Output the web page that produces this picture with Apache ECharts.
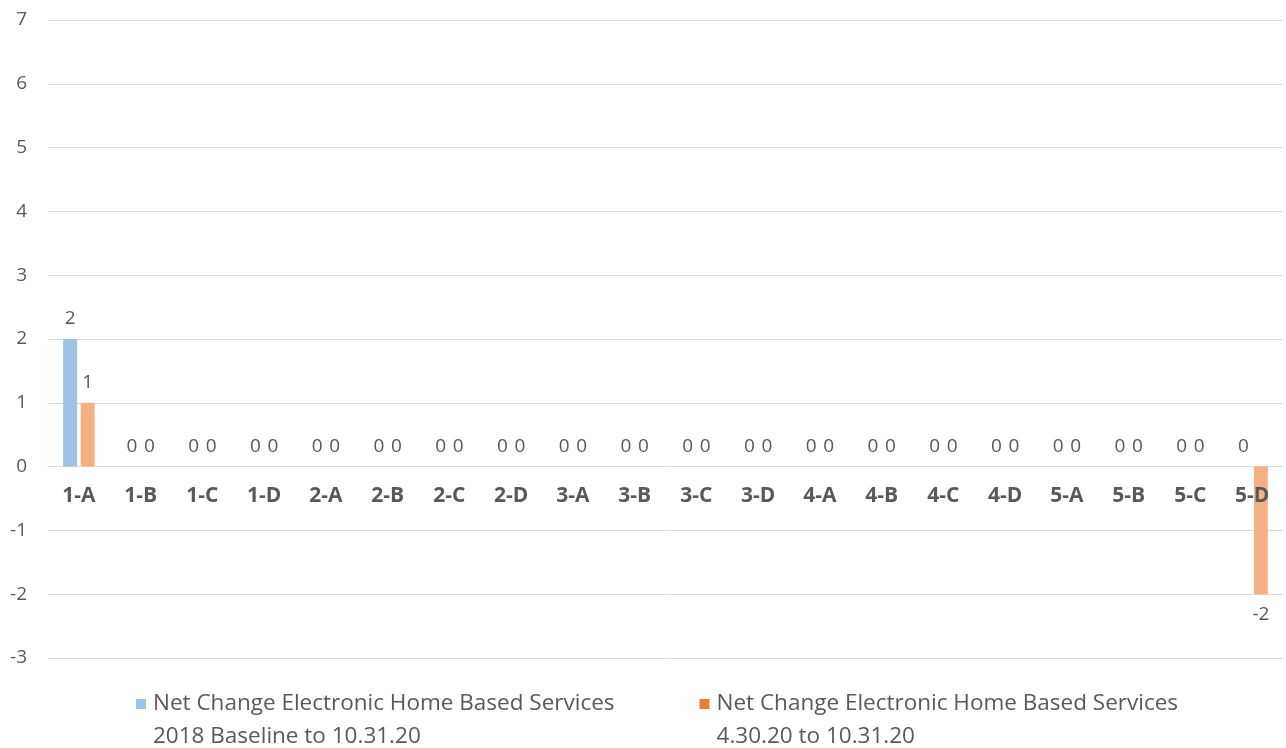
<!DOCTYPE html>
<html>
<head>
  <meta charset="utf-8">
  <title>Net Change Electronic Home Based Services</title>
  <script src="https://cdn.jsdelivr.net/npm/echarts@6/dist/echarts.min.js"></script>
  <style>
    html, body { margin: 0; padding: 0; background: #fff; }
    #main { width: 1286px; height: 748px; }
  </style>
</head>
<body>
  <div id="main"></div>
  <script>
    // data
    var categories = ['1-A', '1-B', '1-C', '1-D', '2-A', '2-B', '2-C', '2-D', '3-A', '3-B',
                      '3-C', '3-D', '4-A', '4-B', '4-C', '4-D', '5-A', '5-B', '5-C', '5-D'];
    var baseline2018 = [2, 0, 0, 0, 0, 0, 0, 0, 0, 0, 0, 0, 0, 0, 0, 0, 0, 0, 0, 0];
    var since430 = [1, 0, 0, 0, 0, 0, 0, 0, 0, 0, 0, 0, 0, 0, 0, 0, 0, 0, 0, -2];
    var seriesNames = [
      'Net Change Electronic Home Based Services\n2018 Baseline to 10.31.20',
      'Net Change Electronic Home Based Services\n4.30.20 to 10.31.20'
    ];

    var font = 'Open Sans';
    var grey = '#595959';
    var yMin = -3, yMax = 7;
    var plotTop = 20, plotBottom = 90;

    var myChart = echarts.init(document.getElementById('main'));

    function labelFor(v) {
      return {
        show: true,
        position: v < 0 ? 'bottom' : 'top',
        distance: 11,
        color: grey,
        fontFamily: font,
        fontSize: 19
      };
    }

    function toData(arr) {
      return arr.map(function (v) {
        return { value: v, label: labelFor(v) };
      });
    }

    // category labels sit under the zero line, like the excel chart
    var plotH = 748 - plotTop - plotBottom;
    var zeroOffset = -plotH * (0 - yMin) / (yMax - yMin);

    // square sitting on the first text line, padded to the two-line height
    var legendIcon = 'path://M0,0H0.01V0.01H0Z M0,12H10V22H0Z M0,66H0.01V66.01H0Z';

    myChart.setOption({
      animation: false,
      textStyle: { fontFamily: font },
      grid: { left: 48, right: 3, top: plotTop, bottom: plotBottom, containLabel: false },
      legend: {
        top: 682,
        left: 131,
        itemGap: 85,
        itemWidth: 10,
        itemHeight: 66,
        icon: legendIcon,
        textStyle: { color: grey, fontFamily: font, fontSize: 22.5, lineHeight: 33, padding: [0, 0, 0, 2] },
        data: [
          { name: seriesNames[0], itemStyle: { color: '#9DC3E6' } },
          { name: seriesNames[1], itemStyle: { color: '#ED7D31' } }
        ]
      },
      xAxis: {
        type: 'category',
        data: categories,
        offset: zeroOffset,
        z: 5,
        axisLine: { show: false, onZero: false },
        axisTick: { show: false },
        axisLabel: {
          color: grey,
          fontFamily: font,
          fontSize: 21,
          fontWeight: 'bold',
          margin: 19
        }
      },
      yAxis: {
        type: 'value',
        min: yMin,
        max: yMax,
        interval: 1,
        axisLine: { show: false },
        axisTick: { show: false },
        axisLabel: { color: grey, fontFamily: font, fontSize: 19, margin: 21 },
        splitLine: { lineStyle: { color: '#D9D9D9', width: 1 } }
      },
      series: [
        {
          name: seriesNames[0],
          type: 'bar',
          barWidth: 14,
          barGap: '25%',
          itemStyle: { color: '#9DC3E6' },
          data: toData(baseline2018)
        },
        {
          name: seriesNames[1],
          type: 'bar',
          barWidth: 14,
          itemStyle: { color: '#F4B183' },
          data: toData(since430)
        }
      ]
    });
  </script>
</body>
</html>
